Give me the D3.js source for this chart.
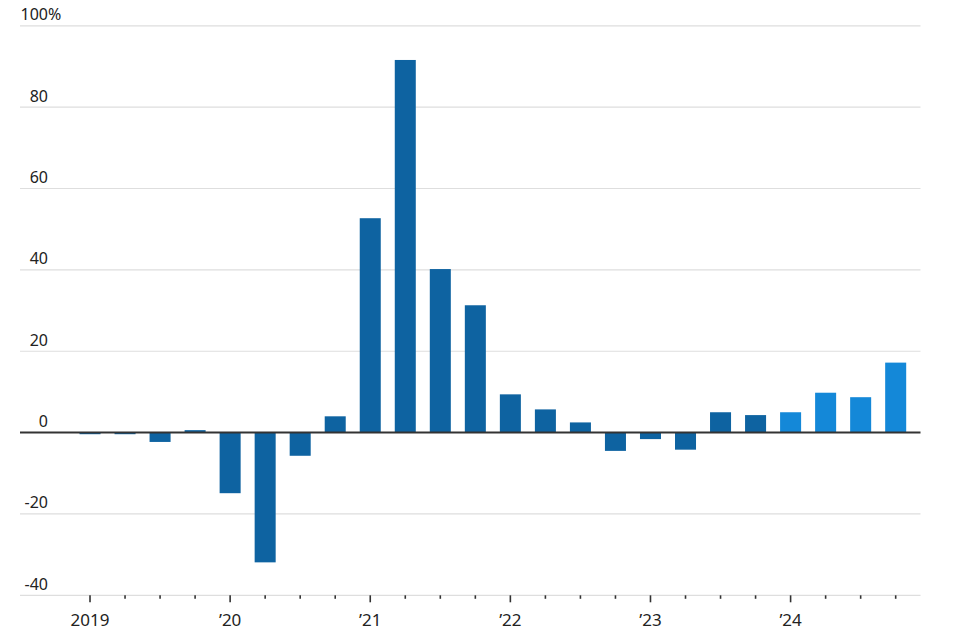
<!DOCTYPE html>
<html>
<head>
<meta charset="utf-8">
<script src="https://cdn.jsdelivr.net/npm/d3@7"></script>
<style>
  body { margin: 0; background: #fff; }
  text { font-family: "Noto Sans", sans-serif; fill: #222; }
</style>
</head>
<body>
<div id="chart"></div>
<script>
var width = 960,
    height = 637;

// quarters, 2019 Q1 .. 2024 Q4
var quarters = ['2019Q1','2019Q2','2019Q3','2019Q4',
  '2020Q1','2020Q2','2020Q3','2020Q4',
  '2021Q1','2021Q2','2021Q3','2021Q4',
  '2022Q1','2022Q2','2022Q3','2022Q4',
  '2023Q1','2023Q2','2023Q3','2023Q4',
  '2024Q1','2024Q2','2024Q3','2024Q4'];

// percent change
var values = [-0.4, -0.4, -2.3, 0.6,
  -14.9, -31.9, -5.7, 4.0,
  52.7, 91.6, 40.2, 31.3,
  9.4, 5.7, 2.5, -4.5,
  -1.6, -4.2, 5.0, 4.3,
  5.0, 9.8, 8.7, 17.2];

var yTicks = [-40, -20, 0, 20, 40, 60, 80, 100];
var yearTicks = ['2019Q1','2020Q1','2021Q1','2022Q1','2023Q1','2024Q1'];
var yearLabels = ['2019', '\u201920', '\u201921', '\u201922', '\u201923', '\u201924'];

var data = quarters.map(function(q, i) { return {q: q, v: values[i]}; });

var svg = d3.select('#chart').append('svg')
  .attr('width', width)
  .attr('height', height);

var x = d3.scaleBand()
  .domain(quarters)
  .range([72.5, 913.2])
  .paddingInner(0.4)
  .paddingOuter(0.2);

var y = d3.scaleLinear()
  .domain([-40, 100])
  .range([595.3, 25.8]);

var left = 20, right = 920.5;

// gridlines
svg.append('g')
  .selectAll('line')
  .data(yTicks.filter(d => d !== 0))
  .enter().append('line')
  .attr('x1', left)
  .attr('x2', right)
  .attr('y1', d => y(d))
  .attr('y2', d => y(d))
  .style('stroke', '#dedede')
  .style('stroke-width', 1.2);

// y labels (numbers right-aligned, % hanging)
var ylab = svg.append('g');
ylab.selectAll('text')
  .data(yTicks)
  .enter().append('text')
  .attr('x', 48)
  .attr('y', d => y(d) - 5.5)
  .attr('text-anchor', 'end')
  .style('font-size', '16px')
  .text(d => d);
ylab.append('text')
  .attr('x', 48)
  .attr('y', y(100) - 5.5)
  .style('font-size', '16px')
  .text('%');

// bars
svg.append('g')
  .selectAll('rect')
  .data(data)
  .enter().append('rect')
  .attr('x', d => x(d.q))
  .attr('width', x.bandwidth())
  .attr('y', d => y(Math.max(0, d.v)))
  .attr('height', d => Math.abs(y(d.v) - y(0)))
  .style('fill', d => d.q.indexOf('2024') === 0 ? '#1488d8' : '#0e63a1');

// zero line
svg.append('line')
  .attr('x1', left)
  .attr('x2', right)
  .attr('y1', y(0))
  .attr('y2', y(0))
  .style('stroke', '#333')
  .style('stroke-width', 2);

// x ticks
var xt = svg.append('g');
xt.selectAll('line')
  .data(quarters)
  .enter().append('line')
  .attr('x1', d => x(d) + x.bandwidth() / 2)
  .attr('x2', d => x(d) + x.bandwidth() / 2)
  .attr('y1', y(-40))
  .attr('y2', d => y(-40) + (yearTicks.indexOf(d) >= 0 ? 7 : 3.5))
  .style('stroke', '#333')
  .style('stroke-width', 1.6);

xt.selectAll('text')
  .data(yearTicks)
  .enter().append('text')
  .attr('x', d => x(d) + x.bandwidth() / 2)
  .attr('y', 625.5)
  .attr('text-anchor', 'middle')
  .style('font-size', '17px')
  .text((d, i) => yearLabels[i]);
</script>
</body>
</html>
